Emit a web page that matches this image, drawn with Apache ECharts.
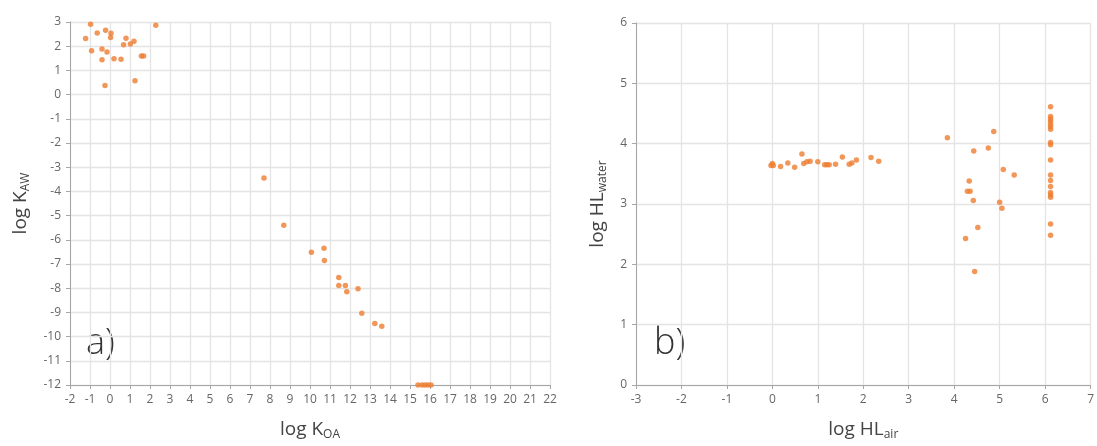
<!DOCTYPE html>
<html><head><meta charset="utf-8">
<script src="https://cdn.jsdelivr.net/npm/echarts@6/dist/echarts.min.js"></script>
<style>html,body{margin:0;padding:0;background:#fff}#c{width:1097px;height:446px}</style>
</head><body><div id="c"></div>
<script>
// Panel a: log KOA vs log KAW
const logKOA = [-0.97, 2.29, -1.22, -0.64, -0.22, 0.05, 0.03, 0.8, 0.68, 1.02, 1.2, -0.92, -0.4, -0.15, -0.4, 0.2, 0.55, 1.57, 1.68, 1.25, -0.25,
  7.7, 8.69, 10.07, 10.7, 10.72, 11.44, 11.44, 11.77, 11.84, 12.4, 12.59, 13.24, 13.59, 15.4, 15.6, 15.75, 15.9, 16.05];
const logKAW = [2.91, 2.87, 2.32, 2.55, 2.66, 2.53, 2.36, 2.33, 2.06, 2.09, 2.2, 1.81, 1.88, 1.76, 1.44, 1.48, 1.46, 1.60, 1.60, 0.57, 0.38,
  -3.45, -5.40, -6.51, -6.35, -6.86, -7.56, -7.89, -7.89, -8.15, -8.02, -9.03, -9.46, -9.57, -12, -12, -12, -12, -12];
// Panel b: log HLair vs log HLwater
const logHLair = [-0.03, 0.02, 0.0, 0.18, 0.34, 0.49, 0.65, 0.69, 0.76, 0.83, 1.0, 1.15, 1.2, 1.25, 1.39, 1.54, 1.69, 1.75, 1.85, 2.17, 2.34,
  3.85, 4.87, 4.43, 4.75, 5.08, 5.32, 4.33, 4.29, 4.35, 4.42, 5.0, 5.05, 4.52, 4.25, 4.45,
  6.12, 6.12, 6.12, 6.12, 6.12, 6.12, 6.12, 6.12, 6.12, 6.12, 6.12, 6.12, 6.12, 6.12, 6.12, 6.12, 6.12, 6.12];
const logHLwater = [3.64, 3.64, 3.67, 3.62, 3.68, 3.61, 3.83, 3.67, 3.70, 3.71, 3.70, 3.65, 3.65, 3.65, 3.66, 3.78, 3.66, 3.68, 3.73, 3.77, 3.71,
  4.10, 4.2, 3.88, 3.93, 3.57, 3.48, 3.38, 3.21, 3.21, 3.06, 3.03, 2.93, 2.61, 2.43, 1.88,
  4.61, 4.45, 4.41, 4.37, 4.32, 4.28, 4.24, 4.02, 3.98, 3.73, 3.48, 3.39, 3.29, 3.19, 3.15, 3.11, 2.67, 2.48];
const panelLabels = ['a)', 'b)'];

const FONT = '"Open Sans", "Noto Sans", sans-serif';
const lbl = {color: '#666666', fontSize: 12, fontFamily: FONT};
const nameRich = {
  m: {fontSize: 19, color: '#444444', fontFamily: FONT},
  s: {fontSize: 12, color: '#444444', fontFamily: FONT, padding: [10, 0, 0, 0]}
};
const axLine = {show: true, onZero: false, lineStyle: {color: '#a6a6a6', width: 1}};
const axTick = {show: true, length: 4, lineStyle: {color: '#a6a6a6'}};
const split = {show: true, lineStyle: {color: '#e4e4e4', width: 1.3}};

function xAx(idx, min, max, name) {
  return {gridIndex: idx, type: 'value', min, max, interval: 1, axisLine: axLine, axisTick: axTick,
    splitLine: split, axisLabel: Object.assign({margin: 9}, lbl),
    name, nameLocation: 'middle', nameGap: 34, nameTextStyle: {rich: nameRich}};
}
function yAx(idx, min, max, name, gap) {
  return {gridIndex: idx, type: 'value', min, max, interval: 1, axisLine: axLine, axisTick: axTick,
    splitLine: split, axisLabel: Object.assign({margin: 9}, lbl),
    name, nameLocation: 'middle', nameGap: gap, nameRotate: 90, nameTextStyle: {rich: nameRich}};
}
const pt = {color: '#ED7D31'};

const chart = echarts.init(document.getElementById('c'), null, {renderer: 'canvas'});
chart.setOption({
  animation: false,
  backgroundColor: '#fff',
  grid: [
    {left: 70, width: 480, top: 22, height: 364},
    {left: 636, width: 456, top: 23, height: 363}
  ],
  xAxis: [
    xAx(0, -2, 22, '{m|log K}{s|OA}'),
    xAx(1, -3, 7, '{m|log HL}{s|air}')
  ],
  yAxis: [
    yAx(0, -12, 3, '{m|log K}{s|AW}', 38),
    yAx(1, 0, 6, '{m|log HL}{s|water}', 27)
  ],
  series: [
    {type: 'scatter', xAxisIndex: 0, yAxisIndex: 0, symbolSize: 5.5, itemStyle: pt,
     data: logKOA.map((v, i) => [v, logKAW[i]])},
    {type: 'scatter', xAxisIndex: 1, yAxisIndex: 1, symbolSize: 5.5, itemStyle: pt,
     data: logHLair.map((v, i) => [v, logHLwater[i]])}
  ],
  graphic: [
    {type: 'text', left: 86, top: 326, style: {text: panelLabels[0], fontSize: 36, fontWeight: 300, fill: '#333', fontFamily: FONT}},
    {type: 'text', left: 654, top: 326, style: {text: panelLabels[1], fontSize: 36, fontWeight: 300, fill: '#333', fontFamily: FONT}}
  ]
});
</script></body></html>
